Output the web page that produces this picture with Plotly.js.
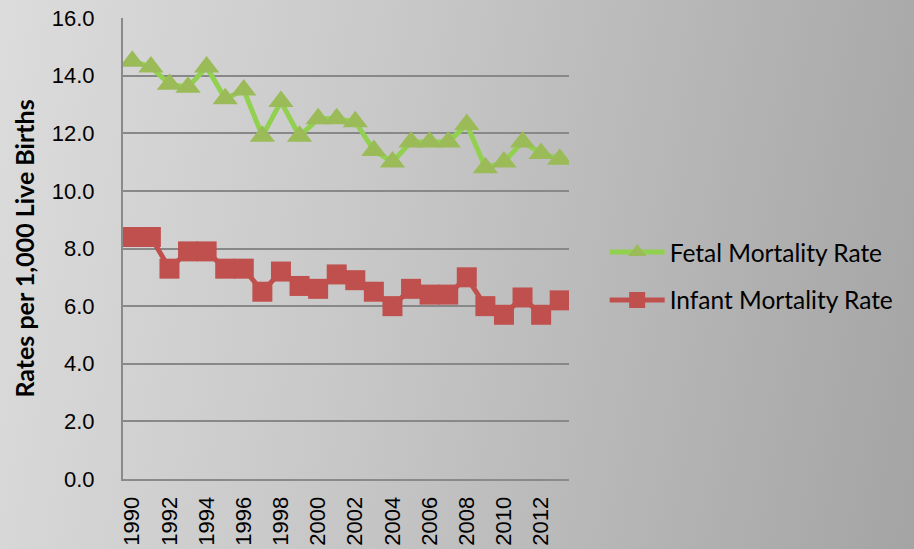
<!DOCTYPE html>
<html>
<head>
<meta charset="utf-8">
<script src="https://cdn.plot.ly/plotly-3.0.1.min.js"></script>
<style>
html, body { margin:0; padding:0; }
body { width:914px; height:549px; background: linear-gradient(100deg, #dcdcdc 0%, #c8c8c8 40%, #a4a4a4 100%); overflow:hidden; }
#chart { width:914px; height:549px; }
</style>
</head>
<body>
<div id="chart"></div>
<script>
const years = ['1990','1991','1992','1993','1994','1995','1996','1997','1998','1999','2000','2001','2002','2003','2004','2005','2006','2007','2008','2009','2010','2011','2012','2013'];
const fetalRate = [14.5,14.3,13.7,13.6,14.3,13.2,13.5,11.9,13.1,11.9,12.5,12.5,12.4,11.4,11.0,11.7,11.7,11.7,12.3,10.8,11.0,11.7,11.3,11.1];
const infantRate = [8.4,8.4,7.3,7.9,7.9,7.3,7.3,6.5,7.2,6.7,6.6,7.1,6.9,6.5,6.0,6.6,6.4,6.4,7.0,6.0,5.7,6.3,5.7,6.2];
const xTickYears = ['1990','1992','1994','1996','1998','2000','2002','2004','2006','2008','2010','2012'];
const yTickVals = [0,2,4,6,8,10,12,14,16];

const traces = [
  {x: years, y: fetalRate, name: 'Fetal Mortality Rate', type: 'scatter', mode: 'lines+markers', legendgroup: 'fetal',
   line: {color: '#92d050', width: 5},
   marker: {symbol: 'triangle-up', size: 22, color: '#9bbb59', line: {width: 0}}},
  {x: years, y: infantRate, name: 'Infant Mortality Rate', type: 'scatter', mode: 'lines+markers', legendgroup: 'infant',
   line: {color: '#c0504d', width: 5},
   marker: {symbol: 'square', size: 20, color: '#c0504d', line: {width: 0}}}
];

const layout = {
  width: 914, height: 549,
  paper_bgcolor: 'rgba(0,0,0,0)', plot_bgcolor: 'rgba(0,0,0,0)',
  margin: {l: 123, r: 345, t: 18, b: 70},
  showlegend: true,
  legend: {x: 1.08, y: 0.44, xanchor: 'left', yanchor: 'middle', bgcolor: 'rgba(0,0,0,0)',
           font: {family: 'Lato, sans-serif', size: 24.5, color: '#000'}, itemwidth: 55, tracegroupgap: 13},
  xaxis: {type: 'category', range: [-0.5, 23.5], tickvals: xTickYears, ticktext: xTickYears,
          tickangle: -90, showgrid: false, showline: true, linecolor: '#8a8a8a', linewidth: 2,
          ticks: '', ticklabelstandoff: 7, zeroline: false,
          tickfont: {family: 'Liberation Sans, Arial, sans-serif', size: 22, color: '#000'}},
  yaxis: {range: [0, 16], tickvals: yTickVals, tickformat: '.1f', showgrid: true, gridcolor: '#888888', gridwidth: 2,
          showline: true, linecolor: '#8a8a8a', linewidth: 2, ticks: '', ticklabelstandoff: 22, zeroline: false,
          tickfont: {family: 'Liberation Sans, Arial, sans-serif', size: 22, color: '#000'},
          title: {text: 'Rates per 1,000 Live Births', standoff: 10,
                  font: {family: 'Lato, sans-serif', size: 25, color: '#000', weight: 'bold'}}}
};

Plotly.newPlot('chart', traces, layout, {displayModeBar: false, staticPlot: true});
</script>
</body>
</html>
